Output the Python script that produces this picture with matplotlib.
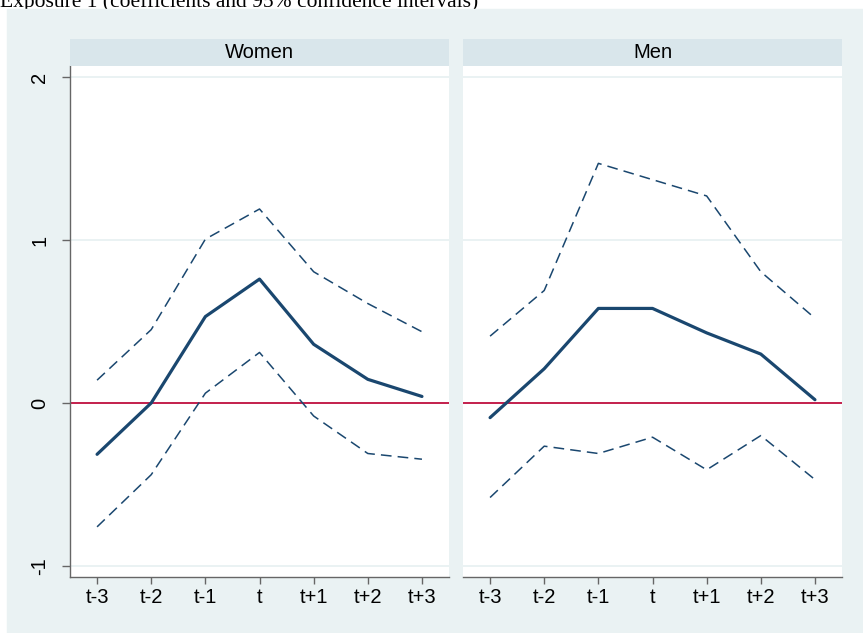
import matplotlib.pyplot as plt
from matplotlib.patches import Rectangle

periods = ["t-3", "t-2", "t-1", "t", "t+1", "t+2", "t+3"]

women_coef = [-0.315, 0.0, 0.53, 0.76, 0.36, 0.145, 0.04]
women_upper = [0.14, 0.45, 1.005, 1.19, 0.805, 0.61, 0.437]
women_lower = [-0.76, -0.44, 0.06, 0.31, -0.08, -0.31, -0.345]

men_coef = [-0.09, 0.21, 0.58, 0.58, 0.43, 0.30, 0.02]
men_upper = [0.41, 0.69, 1.47, 1.37, 1.27, 0.805, 0.52]
men_lower = [-0.58, -0.265, -0.31, -0.21, -0.41, -0.20, -0.47]

yticks = [-1, 0, 1, 2]

NAVY = "#1A476F"
RED = "#C0103F"
BG = "#EAF2F3"
STRIP = "#D9E6EB"
AXIS = "#666666"

plt.rcParams["font.family"] = ["Liberation Sans", "DejaVu Sans"]


def draw_panel(fig, left, label, coef, upper, lower, show_y):
    ax = fig.add_axes([left, 0.0885, 0.4392, 0.8073])
    x = range(len(periods))
    for v in yticks:
        ax.axhline(v, color=BG, lw=1.4, zorder=1)
    ax.axhline(0, color=RED, lw=1.3, zorder=2)
    ax.plot(x, upper, color=NAVY, lw=1.1, dashes=(7, 4), zorder=3)
    ax.plot(x, lower, color=NAVY, lw=1.1, dashes=(7, 4), zorder=3)
    ax.plot(x, coef, color=NAVY, lw=2.3, solid_capstyle="round", zorder=4)
    ax.set_xlim(-0.5, 6.5)
    ax.set_ylim(-1.0675, 2.0675)
    ax.set_xticks(list(x))
    ax.set_xticklabels(periods, fontsize=14.5)
    ax.tick_params(axis="x", length=5, width=1, color=AXIS, pad=3)
    for side in ["top", "right"]:
        ax.spines[side].set_visible(False)
    ax.spines["bottom"].set_color(AXIS)
    ax.spines["bottom"].set_linewidth(1)
    if show_y:
        ax.set_yticks(yticks)
        ax.set_yticklabels([str(v) for v in yticks], fontsize=14.5,
                           rotation=90, va="center")
        ax.tick_params(axis="y", length=6, width=1, color=AXIS, pad=9)
        ax.spines["left"].set_color(AXIS)
        ax.spines["left"].set_linewidth(1)
    else:
        ax.set_yticks([])
        ax.spines["left"].set_visible(False)

    strip = fig.add_axes([left, 0.8957, 0.4392, 0.0427])
    strip.set_facecolor(STRIP)
    strip.set_xticks([])
    strip.set_yticks([])
    for s in strip.spines.values():
        s.set_visible(False)
    strip.text(0.5, 0.5, label, ha="center", va="center", fontsize=14.5,
               transform=strip.transAxes)
    return ax


fig = plt.figure(figsize=(8.63, 6.33), dpi=100)
# outer graph region, sitting behind both panels
fig.add_artist(Rectangle((7 / 863, 0), 1, (633 - 9) / 633,
                         transform=fig.transFigure, color=BG, zorder=-10))
fig.text(0.0, 1 - 7 / 633, "Exposure 1 (coefficients and 95% confidence intervals)",
         family="Liberation Serif", fontsize=15.5, ha="left", va="baseline",
         zorder=-20)

draw_panel(fig, 70 / 863, "Women", women_coef, women_upper, women_lower, True)
draw_panel(fig, 463 / 863, "Men", men_coef, men_upper, men_lower, False)

fig.savefig("out.png", dpi=100)
